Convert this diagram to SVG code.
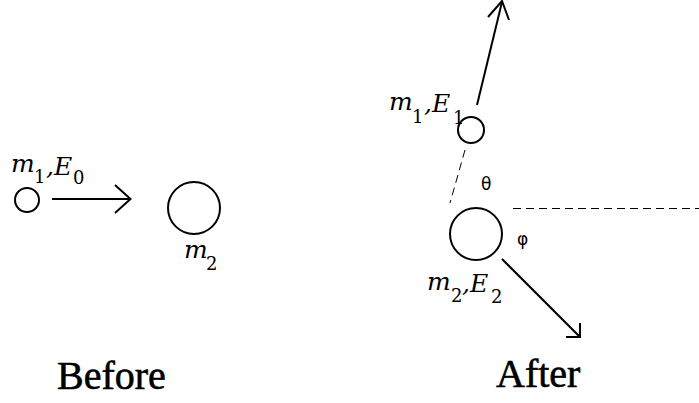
<svg xmlns="http://www.w3.org/2000/svg" width="699" height="403" viewBox="0 0 699 403">
<style>
.c{fill:none;stroke:#000;stroke-width:2}
.a{fill:none;stroke:#000;stroke-width:2;stroke-linecap:butt}
.d{fill:none;stroke:#000;stroke-width:1;stroke-dasharray:8,5}
.mi{font-family:"DejaVu Serif",serif;font-style:italic;font-size:25px}
.sb{font-family:"DejaVu Serif",serif;font-size:18px}
.g{font-family:"DejaVu Sans",sans-serif;font-size:17px}
.t{font-family:"Liberation Serif",serif;font-size:40px;stroke:#000;stroke-width:0.6}
</style>
<rect width="699" height="403" fill="#fff"/>
<g id="before-m1">
<circle class="c" cx="27" cy="200" r="12"/>
<text class="mi" x="11" y="172">m</text><text class="sb" x="34" y="183">1</text>
<text class="mi" x="46" y="175">,E</text><text class="sb" x="73" y="184">0</text>
</g>
<g id="before-m2">
<circle class="c" cx="194" cy="208" r="26"/>
<text class="mi" x="184" y="258">m</text><text class="sb" x="206" y="270">2</text>
</g>
<g id="after-m1">
<circle class="c" cx="471" cy="130" r="13"/>
<text class="mi" x="389" y="110">m</text><text class="sb" x="412" y="123">1</text>
<text class="mi" x="424" y="112">,E</text><text class="sb" x="453" y="124">1</text>
</g>
<g id="after-m2">
<circle class="c" cx="476" cy="234" r="26"/>
<text class="mi" x="427" y="290">m</text><text class="sb" x="451" y="302">2</text>
<text class="mi" x="462" y="292">,E</text><text class="sb" x="491" y="303">2</text>
</g>
<g id="connectors">
<line class="a" x1="52" y1="199" x2="130" y2="199"/>
<polyline class="a" points="115,185 130.5,199 115,213"/>
<line class="a" x1="477" y1="105" x2="502" y2="2"/>
<polyline class="a" points="488,17 502,1 509,20"/>
<line class="a" x1="502" y1="259" x2="580" y2="337"/>
<polyline class="a" points="580,323 580,337 566,337"/>
<line class="d" x1="465" y1="150" x2="450" y2="203"/>
<line class="d" x1="513" y1="208.5" x2="699" y2="208.5"/>
</g>
<g id="angles">
<text class="g" x="481" y="190">θ</text>
<text class="g" x="517" y="245">φ</text>
</g>
<g id="captions">
<text class="t" x="57" y="389">Before</text>
<text class="t" x="496" y="387">After</text>
</g>
</svg>
